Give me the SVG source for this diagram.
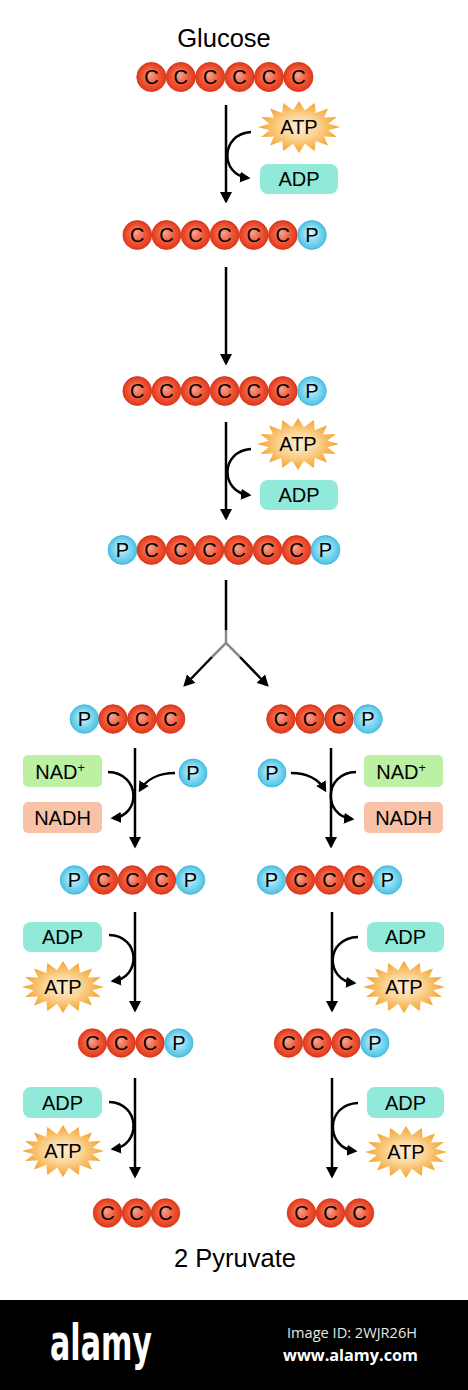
<svg xmlns="http://www.w3.org/2000/svg" xmlns:xlink="http://www.w3.org/1999/xlink" width="468" height="1390" viewBox="0 0 468 1390">
<defs>
<radialGradient id="gRed" cx="50%" cy="50%" r="50%" fx="45%" fy="42%">
<stop offset="0%" stop-color="#f9a48e"/><stop offset="55%" stop-color="#f05a3a"/><stop offset="100%" stop-color="#e2381b"/>
</radialGradient>
<radialGradient id="gBlue" cx="50%" cy="50%" r="50%" fx="45%" fy="42%">
<stop offset="0%" stop-color="#e2f8fd"/><stop offset="55%" stop-color="#86daf0"/><stop offset="100%" stop-color="#4cc2e5"/>
</radialGradient>
<radialGradient id="gStar" cx="50%" cy="50%" r="50%">
<stop offset="0%" stop-color="#fdeed2"/><stop offset="45%" stop-color="#fbd597"/><stop offset="100%" stop-color="#f5a12a"/>
</radialGradient>
<polygon id="star" points="41,0 29.4,3.3 37.9,10 25,9.5 29,18.4 16.7,14.1 15.7,24 5.9,16.7 0,26 -5.9,16.7 -15.7,24 -16.7,14.1 -29,18.4 -25,9.5 -37.9,10 -29.4,3.3 -41,0 -29.4,-3.3 -37.9,-10 -25,-9.5 -29,-18.4 -16.7,-14.1 -15.7,-24 -5.9,-16.7 0,-26 5.9,-16.7 15.7,-24 16.7,-14.1 29,-18.4 25,-9.5 37.9,-10 29.4,-3.3"/>
<marker id="ah" markerUnits="userSpaceOnUse" markerWidth="12" markerHeight="12" refX="9" refY="6" orient="auto" viewBox="0 0 12 12"><path d="M0,0 L11.5,6 L0,12 z" fill="#000"/></marker>
<marker id="ahs" markerUnits="userSpaceOnUse" markerWidth="11" markerHeight="11" refX="8" refY="5.5" orient="auto" viewBox="0 0 11 11"><path d="M0,0 L10.5,5.5 L0,11 z" fill="#000"/></marker>
<style>
.r{fill:url(#gRed);stroke:#cf3419;stroke-width:0.8}
.b{fill:url(#gBlue);stroke:#3fb3d8;stroke-width:0.8}
.t{font-family:"Liberation Sans",Arial,sans-serif;font-size:20px;fill:#000;text-anchor:middle}
.lbl{font-family:"Liberation Sans",Arial,sans-serif;font-size:25.5px;fill:#000;text-anchor:middle}
.adp{fill:#90e9d9}
.nad{fill:#bcf0a2}
.nadh{fill:#f8c2a9}
.st{fill:url(#gStar)}
.ln{stroke:#000;stroke-width:2.5;fill:none}
.arr{marker-end:url(#ah)}
.carr{marker-end:url(#ahs)}
</style>
</defs>
<rect x="0" y="0" width="468" height="1300" fill="#fff"/>

<g id="connectors">
<line class="ln arr" x1="226" y1="105" x2="226" y2="201"/>
<path class="ln carr" d="M251,132 C220,134 220,175 248,178"/>
<line class="ln arr" x1="226" y1="267" x2="226" y2="363"/>
<line class="ln arr" x1="226" y1="422" x2="226" y2="518"/>
<path class="ln carr" d="M251,449 C220,451 220,492 249,495"/>
<line class="ln" x1="226" y1="580" x2="226" y2="630"/>
<polyline points="226,630 226,643 212,657" fill="none" stroke="#8a8a8a" stroke-width="2.5"/>
<polyline points="226,643 240,657" fill="none" stroke="#8a8a8a" stroke-width="2.5"/>
<line class="ln arr" x1="212" y1="657" x2="185" y2="685"/>
<line class="ln arr" x1="240" y1="657" x2="267" y2="685"/>
<line class="ln arr" x1="135" y1="748" x2="135" y2="846"/>
<path class="ln carr" d="M108,772 C141,773 141,816 113,818"/>
<path class="ln carr" d="M175,773 C158,773 146,780 140,790"/>
<line class="ln arr" x1="331" y1="748" x2="331" y2="846"/>
<path class="ln carr" d="M291,773 C308,773 319,780 325,790"/>
<path class="ln carr" d="M356,772 C323,773 323,816 352,819"/>
<line class="ln arr" x1="135" y1="912" x2="135" y2="1010"/>
<path class="ln carr" d="M109,935 C141,936 141,978 113,981"/>
<line class="ln arr" x1="332" y1="912" x2="332" y2="1010"/>
<path class="ln carr" d="M358,937 C325,938 325,980 354,983"/>
<line class="ln arr" x1="135" y1="1078" x2="135" y2="1176"/>
<path class="ln carr" d="M109,1102 C141,1103 141,1146 113,1149"/>
<line class="ln arr" x1="332" y1="1078" x2="332" y2="1176"/>
<path class="ln carr" d="M358,1103 C325,1104 325,1148 355,1151"/>
</g>

<g id="glucose-label"><text class="lbl" x="224" y="47">Glucose</text></g>

<g id="glucose">
<circle class="r" cx="151.4" cy="77" r="14.6"/><text class="t" x="151.4" y="84">C</text>
<circle class="r" cx="180.8" cy="77" r="14.6"/><text class="t" x="180.8" y="84">C</text>
<circle class="r" cx="210.2" cy="77" r="14.6"/><text class="t" x="210.2" y="84">C</text>
<circle class="r" cx="239.6" cy="77" r="14.6"/><text class="t" x="239.6" y="84">C</text>
<circle class="r" cx="269" cy="77" r="14.6"/><text class="t" x="269" y="84">C</text>
<circle class="r" cx="298.4" cy="77" r="14.6"/><text class="t" x="298.4" y="84">C</text>
</g>

<g id="atp1"><use xlink:href="#star" href="#star" class="st" x="299" y="127"/><text class="t" x="299" y="134">ATP</text></g>
<g id="adp1"><rect class="adp" x="260" y="164" width="78" height="30" rx="8"/><text class="t" x="299" y="186">ADP</text></g>

<g id="g6p">
<circle class="r" cx="137.3" cy="235" r="14.4"/><text class="t" x="137.3" y="242">C</text>
<circle class="r" cx="166.4" cy="235" r="14.4"/><text class="t" x="166.4" y="242">C</text>
<circle class="r" cx="195.5" cy="235" r="14.4"/><text class="t" x="195.5" y="242">C</text>
<circle class="r" cx="224.6" cy="235" r="14.4"/><text class="t" x="224.6" y="242">C</text>
<circle class="r" cx="253.7" cy="235" r="14.4"/><text class="t" x="253.7" y="242">C</text>
<circle class="r" cx="282.8" cy="235" r="14.4"/><text class="t" x="282.8" y="242">C</text>
<circle class="b" cx="311.9" cy="235" r="14.4"/><text class="t" x="311.9" y="242">P</text>
</g>

<g id="f6p">
<circle class="r" cx="137.3" cy="391" r="14.4"/><text class="t" x="137.3" y="398">C</text>
<circle class="r" cx="166.4" cy="391" r="14.4"/><text class="t" x="166.4" y="398">C</text>
<circle class="r" cx="195.5" cy="391" r="14.4"/><text class="t" x="195.5" y="398">C</text>
<circle class="r" cx="224.6" cy="391" r="14.4"/><text class="t" x="224.6" y="398">C</text>
<circle class="r" cx="253.7" cy="391" r="14.4"/><text class="t" x="253.7" y="398">C</text>
<circle class="r" cx="282.8" cy="391" r="14.4"/><text class="t" x="282.8" y="398">C</text>
<circle class="b" cx="311.9" cy="391" r="14.4"/><text class="t" x="311.9" y="398">P</text>
</g>

<g id="atp2"><use xlink:href="#star" href="#star" class="st" x="298" y="444"/><text class="t" x="298" y="451">ATP</text></g>
<g id="adp2"><rect class="adp" x="260" y="480" width="78" height="30" rx="8"/><text class="t" x="299" y="502">ADP</text></g>

<g id="f16bp">
<circle class="b" cx="122.5" cy="550" r="14.4"/><text class="t" x="122.5" y="557">P</text>
<circle class="r" cx="151.5" cy="550" r="14.4"/><text class="t" x="151.5" y="557">C</text>
<circle class="r" cx="180.5" cy="550" r="14.4"/><text class="t" x="180.5" y="557">C</text>
<circle class="r" cx="209.5" cy="550" r="14.4"/><text class="t" x="209.5" y="557">C</text>
<circle class="r" cx="238.5" cy="550" r="14.4"/><text class="t" x="238.5" y="557">C</text>
<circle class="r" cx="267.5" cy="550" r="14.4"/><text class="t" x="267.5" y="557">C</text>
<circle class="r" cx="296.5" cy="550" r="14.4"/><text class="t" x="296.5" y="557">C</text>
<circle class="b" cx="325.5" cy="550" r="14.4"/><text class="t" x="325.5" y="557">P</text>
</g>

<g id="left-pccc">
<circle class="b" cx="84.4" cy="719" r="14.3"/><text class="t" x="84.4" y="726">P</text>
<circle class="r" cx="113.1" cy="719" r="14.3"/><text class="t" x="113.1" y="726">C</text>
<circle class="r" cx="141.9" cy="719" r="14.3"/><text class="t" x="141.9" y="726">C</text>
<circle class="r" cx="170.6" cy="719" r="14.3"/><text class="t" x="170.6" y="726">C</text>
</g>
<g id="right-cccp">
<circle class="r" cx="281" cy="719" r="14.3"/><text class="t" x="281" y="726">C</text>
<circle class="r" cx="310" cy="719" r="14.3"/><text class="t" x="310" y="726">C</text>
<circle class="r" cx="339" cy="719" r="14.3"/><text class="t" x="339" y="726">C</text>
<circle class="b" cx="368" cy="719" r="14.3"/><text class="t" x="368" y="726">P</text>
</g>

<g id="left-nad"><rect class="nad" x="23" y="755" width="79" height="32" rx="5"/><text class="t" x="60" y="778.5">NAD<tspan font-size="12.5" dy="-7">+</tspan></text></g>
<g id="left-nadh"><rect class="nadh" x="23" y="802" width="79" height="31" rx="5"/><text class="t" x="62.5" y="824.8">NADH</text></g>
<g id="left-pi"><circle class="b" cx="193" cy="773" r="14"/><text class="t" x="193" y="780">P</text></g>
<g id="right-pi"><circle class="b" cx="272" cy="773" r="14"/><text class="t" x="272" y="780">P</text></g>
<g id="right-nad"><rect class="nad" x="364" y="755" width="79" height="32" rx="5"/><text class="t" x="401" y="778.5">NAD<tspan font-size="12.5" dy="-7">+</tspan></text></g>
<g id="right-nadh"><rect class="nadh" x="364" y="802" width="79" height="31" rx="5"/><text class="t" x="403.5" y="824.8">NADH</text></g>

<g id="left-pcccp">
<circle class="b" cx="74.5" cy="880" r="14.3"/><text class="t" x="74.5" y="887">P</text>
<circle class="r" cx="103.5" cy="880" r="14.3"/><text class="t" x="103.5" y="887">C</text>
<circle class="r" cx="132.5" cy="880" r="14.3"/><text class="t" x="132.5" y="887">C</text>
<circle class="r" cx="161.5" cy="880" r="14.3"/><text class="t" x="161.5" y="887">C</text>
<circle class="b" cx="190.5" cy="880" r="14.3"/><text class="t" x="190.5" y="887">P</text>
</g>
<g id="right-pcccp">
<circle class="b" cx="271.5" cy="880" r="14.3"/><text class="t" x="271.5" y="887">P</text>
<circle class="r" cx="300.5" cy="880" r="14.3"/><text class="t" x="300.5" y="887">C</text>
<circle class="r" cx="329.5" cy="880" r="14.3"/><text class="t" x="329.5" y="887">C</text>
<circle class="r" cx="358.5" cy="880" r="14.3"/><text class="t" x="358.5" y="887">C</text>
<circle class="b" cx="387.5" cy="880" r="14.3"/><text class="t" x="387.5" y="887">P</text>
</g>

<g id="left-adp2"><rect class="adp" x="23" y="922" width="79" height="30" rx="8"/><text class="t" x="62.5" y="944">ADP</text></g>
<g id="left-atp2"><use xlink:href="#star" href="#star" class="st" x="63" y="987"/><text class="t" x="63" y="994">ATP</text></g>
<g id="right-adp2"><rect class="adp" x="367" y="922" width="77" height="30" rx="8"/><text class="t" x="405.5" y="944">ADP</text></g>
<g id="right-atp2"><use xlink:href="#star" href="#star" class="st" x="404" y="987"/><text class="t" x="404" y="994">ATP</text></g>

<g id="left-cccp">
<circle class="r" cx="92.5" cy="1043" r="14.2"/><text class="t" x="92.5" y="1050">C</text>
<circle class="r" cx="121.3" cy="1043" r="14.2"/><text class="t" x="121.3" y="1050">C</text>
<circle class="r" cx="150" cy="1043" r="14.2"/><text class="t" x="150" y="1050">C</text>
<circle class="b" cx="178.8" cy="1043" r="14.2"/><text class="t" x="178.8" y="1050">P</text>
</g>
<g id="right-cccp2">
<circle class="r" cx="288.5" cy="1043" r="14.2"/><text class="t" x="288.5" y="1050">C</text>
<circle class="r" cx="317.3" cy="1043" r="14.2"/><text class="t" x="317.3" y="1050">C</text>
<circle class="r" cx="346" cy="1043" r="14.2"/><text class="t" x="346" y="1050">C</text>
<circle class="b" cx="374.8" cy="1043" r="14.2"/><text class="t" x="374.8" y="1050">P</text>
</g>

<g id="left-adp3"><rect class="adp" x="23" y="1087" width="79" height="31" rx="8"/><text class="t" x="62.5" y="1109.5">ADP</text></g>
<g id="left-atp3"><use xlink:href="#star" href="#star" class="st" x="63" y="1151"/><text class="t" x="63" y="1158">ATP</text></g>
<g id="right-adp3"><rect class="adp" x="367" y="1087" width="77" height="31" rx="8"/><text class="t" x="405.5" y="1109.5">ADP</text></g>
<g id="right-atp3"><use xlink:href="#star" href="#star" class="st" x="406" y="1152"/><text class="t" x="406" y="1159">ATP</text></g>

<g id="left-pyruvate">
<circle class="r" cx="107.5" cy="1213" r="14.3"/><text class="t" x="107.5" y="1220">C</text>
<circle class="r" cx="136.5" cy="1213" r="14.3"/><text class="t" x="136.5" y="1220">C</text>
<circle class="r" cx="165.5" cy="1213" r="14.3"/><text class="t" x="165.5" y="1220">C</text>
</g>
<g id="right-pyruvate">
<circle class="r" cx="301.5" cy="1213" r="14.3"/><text class="t" x="301.5" y="1220">C</text>
<circle class="r" cx="330.5" cy="1213" r="14.3"/><text class="t" x="330.5" y="1220">C</text>
<circle class="r" cx="359.5" cy="1213" r="14.3"/><text class="t" x="359.5" y="1220">C</text>
</g>
<g id="pyruvate-label"><text class="lbl" x="235" y="1267">2 Pyruvate</text></g>

<g id="footer">
<rect x="0" y="1300" width="468" height="90" fill="#000"/>
<text x="50" y="1360" font-family="DejaVu Sans Condensed, DejaVu Sans, sans-serif" font-weight="bold" font-size="50" fill="#fff" textLength="102" lengthAdjust="spacingAndGlyphs">alamy</text>
<text x="287" y="1338" font-family="Open Sans, DejaVu Sans, sans-serif" font-size="15" fill="#e6e6e6" textLength="130" lengthAdjust="spacingAndGlyphs">Image ID: 2WJR26H</text>
<text x="283" y="1361" font-family="Open Sans, DejaVu Sans, sans-serif" font-weight="bold" font-size="16" fill="#fff" textLength="135" lengthAdjust="spacingAndGlyphs">www.alamy.com</text>
</g>
</svg>
